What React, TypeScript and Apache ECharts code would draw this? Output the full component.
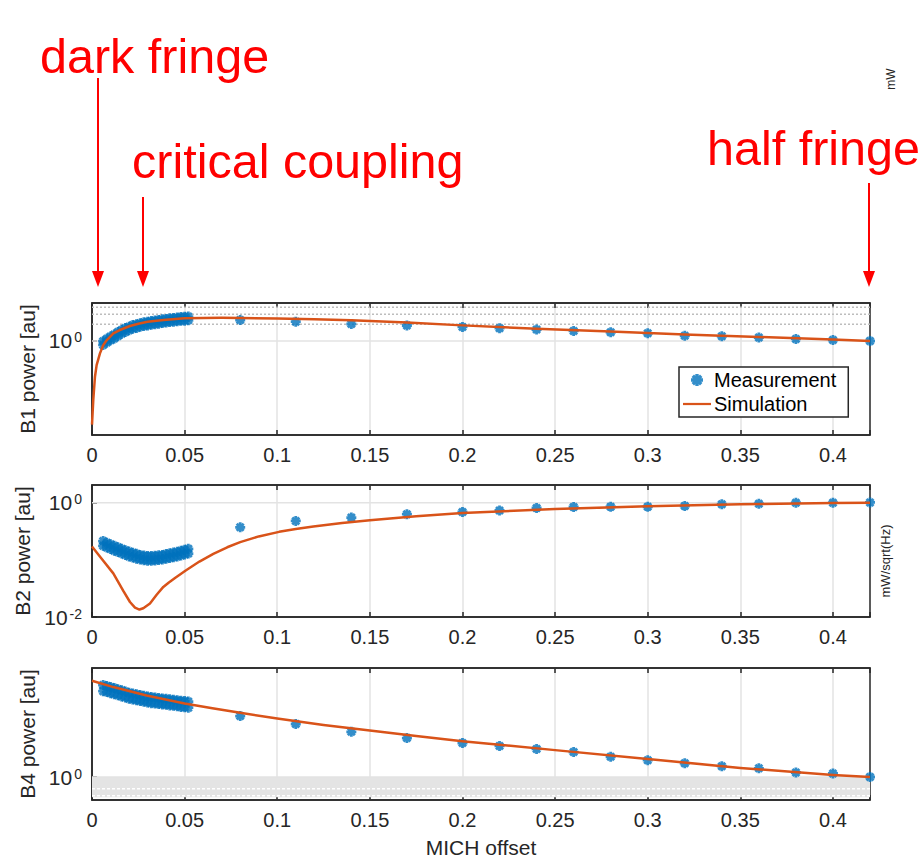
import React, { useEffect, useRef } from 'react';
import * as echarts from 'echarts';

const FONT = '"Liberation Sans", Arial, Helvetica, sans-serif';
const AX = '#262626';
const BLUE = '#0072BD';
const ORANGE = '#D95319';
const RED = '#FF0000';

// x axis
const X_MIN = 0;
const X_MAX = 0.42;
const X_STEP = 0.05;

// measurement offsets
const denseX = [0.006, 0.008, 0.010, 0.012, 0.014, 0.016, 0.018, 0.020, 0.022, 0.024, 0.026, 0.028,
  0.030, 0.032, 0.034, 0.036, 0.038, 0.040, 0.042, 0.044, 0.046, 0.048, 0.050, 0.052];
const sparseX = [0.08, 0.11, 0.14, 0.17, 0.20, 0.22, 0.24, 0.26, 0.28, 0.30, 0.32, 0.34, 0.36, 0.38, 0.40, 0.42];

// B1
const b1DenseHi = [0.99, 1.10, 1.20, 1.30, 1.44, 1.57, 1.70, 1.80, 1.92, 2.00, 2.08, 2.16, 2.21, 2.27, 2.33, 2.38, 2.44, 2.48, 2.54, 2.58, 2.62, 2.67, 2.70, 2.73];
const b1DenseLo = [0.85, 0.94, 1.03, 1.11, 1.23, 1.34, 1.45, 1.55, 1.65, 1.71, 1.79, 1.85, 1.90, 1.94, 2.00, 2.04, 2.09, 2.13, 2.18, 2.21, 2.25, 2.29, 2.31, 2.34];
const b1Sparse = [2.37, 2.21, 2.01, 1.89, 1.78, 1.69, 1.60, 1.51, 1.43, 1.37, 1.24, 1.21, 1.15, 1.09, 1.04, 1.00];
const b1SimX = [0, 0.0007, 0.0016, 0.0025, 0.0043, 0.0061, 0.008, 0.0115, 0.015, 0.0205, 0.025, 0.03, 0.0385, 0.05, 0.06, 0.07, 0.08, 0.10, 0.12, 0.14, 0.17, 0.20, 0.24, 0.28, 0.32, 0.36, 0.40, 0.42];
const b1SimY = [0.032, 0.089, 0.23, 0.37, 0.60, 0.85, 1.04, 1.37, 1.57, 1.85, 2.03, 2.20, 2.37, 2.54, 2.58, 2.59, 2.58, 2.52, 2.45, 2.34, 2.14, 1.90, 1.66, 1.47, 1.31, 1.18, 1.06, 1.00];

// B2
const b2DenseHi = [0.213, 0.199, 0.188, 0.176, 0.166, 0.156, 0.147, 0.140, 0.133, 0.128, 0.122, 0.119, 0.117, 0.117, 0.118, 0.120, 0.122, 0.127, 0.131, 0.134, 0.139, 0.144, 0.150, 0.156];
const b2DenseLo = [0.176, 0.165, 0.155, 0.145, 0.137, 0.129, 0.122, 0.115, 0.110, 0.105, 0.101, 0.098, 0.096, 0.096, 0.097, 0.099, 0.101, 0.105, 0.108, 0.111, 0.115, 0.119, 0.124, 0.129];
const b2Sparse = [0.37, 0.48, 0.55, 0.63, 0.69, 0.73, 0.81, 0.84, 0.85, 0.85, 0.875, 0.94, 0.96, 1.00, 1.00, 1.01];
const b2SimX = [0, 0.005, 0.0115, 0.0169, 0.0205, 0.0232, 0.0256, 0.0277, 0.0313, 0.0349, 0.0385, 0.0415, 0.045, 0.0506, 0.058, 0.0655, 0.073, 0.08, 0.09, 0.101, 0.11, 0.1195, 0.135, 0.15, 0.175, 0.20, 0.25, 0.30, 0.35, 0.40, 0.42];
const b2SimY = [0.171, 0.107, 0.058, 0.0286, 0.0183, 0.0146, 0.0135, 0.0142, 0.0172, 0.0245, 0.0336, 0.0403, 0.0488, 0.0653, 0.0933, 0.127, 0.166, 0.204, 0.257, 0.309, 0.348, 0.385, 0.441, 0.495, 0.578, 0.661, 0.773, 0.867, 0.938, 0.986, 1.00];

// B4
const b4DenseHi = [5.78, 5.67, 5.57, 5.46, 5.34, 5.23, 5.11, 4.99, 4.93, 4.85, 4.79, 4.72, 4.65, 4.60, 4.56, 4.52, 4.48, 4.45, 4.41, 4.37, 4.32, 4.28, 4.26, 4.22];
const b4DenseLo = [5.14, 5.05, 4.95, 4.86, 4.75, 4.65, 4.55, 4.44, 4.39, 4.32, 4.26, 4.20, 4.14, 4.09, 4.06, 4.02, 3.99, 3.96, 3.92, 3.89, 3.85, 3.81, 3.79, 3.75];
const b4Sparse = [3.20, 2.75, 2.37, 2.10, 1.91, 1.81, 1.71, 1.61, 1.47, 1.38, 1.30, 1.23, 1.18, 1.09, 1.07, 1.00];
const b4SimX = [0, 0.0115, 0.0295, 0.05, 0.065, 0.08, 0.10, 0.125, 0.15, 0.175, 0.20, 0.25, 0.30, 0.35, 0.40, 0.42];
const b4SimY = [6.27, 5.56, 4.74, 4.07, 3.71, 3.40, 3.05, 2.70, 2.43, 2.19, 1.98, 1.67, 1.41, 1.19, 1.04, 1.00];

// y axis ranges and labelled ticks
const b1Range = [0.0209, 4.77];
const b2Range = [0.01, 2.04];
const b4Range = [0.645, 8.0];
const b1YTicks = [1];
const b2YTicks = [0.01, 1];
const b4YTicks = [1];
const b1MinorGrid = [2, 3, 4];
const b4ShadeBand = [0.68, 1];
const b4MinorGrid = [0.8, 0.7];
const majorGridY = 1;

const yTitles = ['B1 power [au]', 'B2 power [au]', 'B4 power [au]'];
const xTitle = 'MICH offset';
const legendNames = ['Measurement', 'Simulation'];

const ASTERISK = 'path://M-1.4,-5L1.4,-5L1.4,5L-1.4,5Z M-5,-1.4L5,-1.4L5,1.4L-5,1.4Z M-2.5,-4.5L4.5,2.5L2.5,4.5L-4.5,-2.5Z M4.5,-2.5L-2.5,4.5L-4.5,2.5L2.5,-4.5Z';
const LINE_ICON = 'path://M0,0L30,0L30,2.4L0,2.4Z';

const pairs = (xs: number[], ys: number[]) => xs.map((x, i) => [x, ys[i]]);

const panels = [
  { title: yTitles[0], range: b1Range, ticks: b1YTicks, hi: b1DenseHi, lo: b1DenseLo, sparse: b1Sparse, simX: b1SimX, simY: b1SimY },
  { title: yTitles[1], range: b2Range, ticks: b2YTicks, hi: b2DenseHi, lo: b2DenseLo, sparse: b2Sparse, simX: b2SimX, simY: b2SimY },
  { title: yTitles[2], range: b4Range, ticks: b4YTicks, hi: b4DenseHi, lo: b4DenseLo, sparse: b4Sparse, simX: b4SimX, simY: b4SimY },
];

const GRID_TOPS = [303, 485, 668];
const GRID_LEFT = 92;
const GRID_W = 778;
const GRID_H = 132;

function buildOption() {
  const grids = GRID_TOPS.map((top) => ({
    left: GRID_LEFT, top, width: GRID_W, height: GRID_H,
    show: true, borderColor: AX, borderWidth: 1.5, backgroundColor: '#fff',
  }));

  const xFormatter = (v: number) => {
    const k = v / X_STEP;
    if (Math.abs(k - Math.round(k)) > 1e-6) return '';
    return String(+v.toFixed(2));
  };

  const xAxes: any[] = [];
  panels.forEach((_, p) => {
    xAxes.push({
      gridIndex: p, type: 'value', min: X_MIN, max: X_MAX, interval: X_STEP, position: 'bottom',
      axisLine: { show: true, onZero: false, lineStyle: { color: AX, width: 1.5 } },
      axisTick: { show: true, inside: true, length: 5, lineStyle: { color: AX, width: 1.5 } },
      axisLabel: { formatter: xFormatter, fontSize: 20, color: AX, fontFamily: FONT, margin: 10 },
      splitLine: { show: true, showMinLine: false, showMaxLine: false, lineStyle: { color: '#e3e3e3', width: 1.5 } },
      name: p === 2 ? xTitle : '', nameLocation: 'middle', nameGap: 37,
      nameTextStyle: { fontSize: 21, color: AX, fontFamily: FONT },
    });
  });
  panels.forEach((_, p) => {
    xAxes.push({
      gridIndex: p, type: 'value', min: X_MIN, max: X_MAX, interval: X_STEP, position: 'top',
      axisLine: { show: true, onZero: false, lineStyle: { color: AX, width: 1.5 } },
      axisTick: { show: true, inside: true, length: 5, lineStyle: { color: AX, width: 1.5 } },
      axisLabel: { show: false },
      splitLine: { show: false },
    });
  });

  const yAxes = panels.map((pn, p) => ({
    gridIndex: p, type: 'log', logBase: 10, min: pn.range[0], max: pn.range[1],
    axisLine: { show: true, onZero: false, lineStyle: { color: AX, width: 1.5 } },
    axisTick: { show: true, inside: true, length: 5, customValues: pn.ticks, lineStyle: { color: AX, width: 1.5 } },
    axisLabel: {
      customValues: pn.ticks,
      margin: 10,
      formatter: (v: number) => {
        const ok = pn.ticks.some((t) => Math.abs(t - v) / t < 1e-6);
        if (!ok) return '';
        const e = Math.round(Math.log10(v));
        return `{b|10}{s|${e}}`;
      },
      rich: {
        b: { fontSize: 21, color: AX, fontFamily: FONT, verticalAlign: 'bottom', lineHeight: 21 },
        s: { fontSize: 14, color: AX, fontFamily: FONT, verticalAlign: 'top', lineHeight: 14, padding: [0, 0, 13, 2] },
      },
    },
    splitLine: { show: false },
    name: pn.title, nameLocation: 'middle', nameGap: 52,
    nameTextStyle: { fontSize: 21, color: AX, fontFamily: FONT },
  }));

  const hLine = (p: number, y: number, color: string, type: any) => ({
    type: 'line', xAxisIndex: p, yAxisIndex: p, silent: true, symbol: 'none', z: 1,
    data: [[X_MIN, y], [X_MAX, y]],
    lineStyle: { color, width: 1.5, type },
  });

  const series: any[] = [];
  panels.forEach((pn, p) => {
    const gridSeries: any = hLine(p, majorGridY, '#e3e3e3', 'solid');
    if (p === 2) {
      gridSeries.markArea = {
        silent: true,
        itemStyle: { color: '#e4e4e4' },
        data: [[{ yAxis: b4ShadeBand[0] }, { yAxis: b4ShadeBand[1] }]],
      };
    }
    series.push(gridSeries);
    if (p === 0) b1MinorGrid.forEach((g) => series.push(hLine(p, g, '#bdbdbd', [2, 2])));
    if (p === 2) b4MinorGrid.forEach((g) => series.push(hLine(p, g, '#ffffff', [3, 2])));
    series.push({
      name: legendNames[0], type: 'scatter', xAxisIndex: p, yAxisIndex: p, z: 2,
      symbol: ASTERISK, symbolSize: 10,
      itemStyle: { color: BLUE },
      data: [...pairs(denseX, pn.hi), ...pairs(denseX, pn.lo), ...pairs(sparseX, pn.sparse)],
    });
    series.push({
      name: legendNames[1], type: 'line', xAxisIndex: p, yAxisIndex: p, z: 3,
      symbol: 'none', showSymbol: false, smooth: false,
      lineStyle: { color: ORANGE, width: 2.5, join: 'round' },
      itemStyle: { color: ORANGE },
      data: pairs(pn.simX, pn.simY),
    });
  });

  const arrow = (x: number, y1: number, y2: number) => [
    { type: 'line', shape: { x1: x, y1, x2: x, y2: y2 - 14 }, style: { stroke: RED, lineWidth: 2 } },
    { type: 'polygon', shape: { points: [[x - 6, y2 - 16], [x + 6, y2 - 16], [x, y2]] }, style: { fill: RED } },
  ];
  const bigText = (text: string, x: number, y: number) => ({
    type: 'text', x, y,
    style: { text, fill: RED, fontSize: 48.5, fontFamily: FONT, align: 'left', verticalAlign: 'middle' },
  });

  const graphic: any[] = [
    bigText('dark fringe', 40, 56),
    bigText('critical coupling', 132, 161),
    bigText('half fringe', 707, 148),
    ...arrow(98, 78, 287),
    ...arrow(143, 197, 287),
    ...arrow(869, 183, 287),
    {
      type: 'text', x: 891, y: 79, rotation: Math.PI / 2,
      style: { text: 'mW', fill: AX, fontSize: 12, fontFamily: FONT, align: 'center', verticalAlign: 'middle' },
    },
    {
      type: 'text', x: 885, y: 561, rotation: Math.PI / 2,
      style: { text: 'mW/sqrt(Hz)', fill: AX, fontSize: 13, fontFamily: FONT, align: 'center', verticalAlign: 'middle' },
    },
  ];

  return {
    animation: false,
    backgroundColor: '#fff',
    grid: grids,
    xAxis: xAxes,
    yAxis: yAxes,
    series,
    graphic,
    legend: {
      data: [{ name: legendNames[0], icon: ASTERISK }, { name: legendNames[1], icon: LINE_ICON }],
      orient: 'vertical',
      left: 679, top: 367,
      padding: [3, 12, 3, 4],
      itemGap: 4,
      itemWidth: 28, itemHeight: 12,
      backgroundColor: '#fff',
      borderColor: AX, borderWidth: 1.5, borderRadius: 0,
      selectedMode: false,
      textStyle: { fontSize: 20, color: '#000', fontFamily: FONT, padding: [0, 0, 0, -2] },
    },
  };
}

export default function App() {
  const ref = useRef<HTMLDivElement>(null);
  useEffect(() => {
    if (!ref.current) return;
    const chart = echarts.init(ref.current, undefined, { renderer: 'svg' });
    chart.setOption(buildOption() as any);
    return () => chart.dispose();
  }, []);
  return <div ref={ref} style={{ position: 'absolute', left: 0, top: 0, width: 922, height: 859 }} />;
}
